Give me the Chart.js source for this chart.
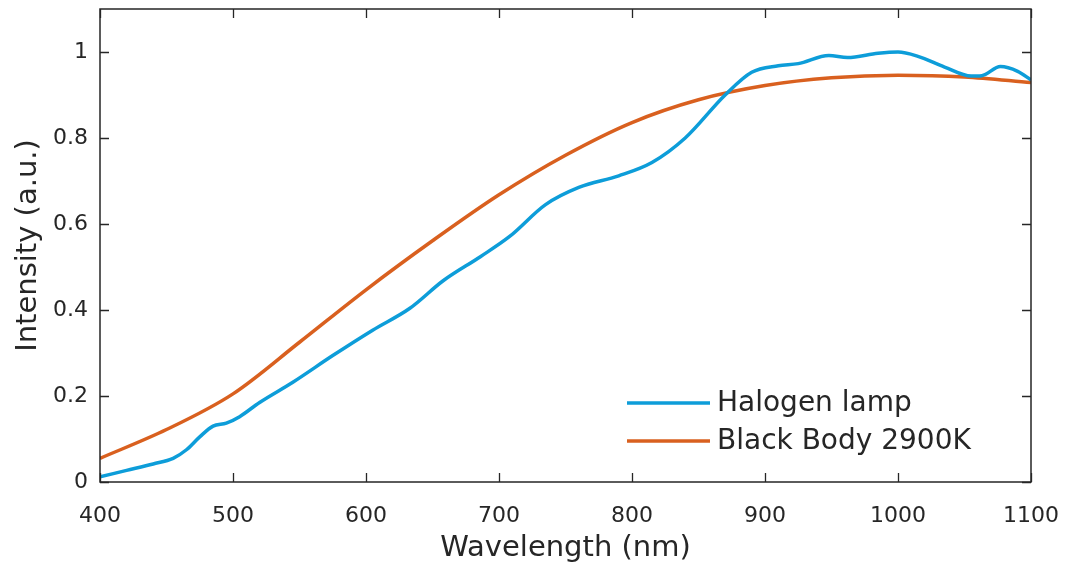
<!DOCTYPE html>
<html>
<head>
<meta charset="utf-8">
<script src="https://cdn.jsdelivr.net/npm/chart.js@4/dist/chart.umd.min.js"></script>
<style>
html,body{margin:0;padding:0;background:#fff;}
#wrap{width:1065px;height:571px;}
</style>
</head>
<body>
<div id="wrap"><canvas id="c" width="1065" height="571"></canvas></div>
<script>
// ---- data ----
const seriesNames = ['Halogen lamp', 'Black Body 2900K'];
const halogenWavelength = [400, 420, 440, 455, 465, 475, 485, 495, 505, 520, 545, 575, 605, 633, 658, 686, 708, 735, 760, 790, 815, 840, 870, 890, 910, 925, 948, 962, 985, 1000, 1015, 1035, 1055, 1063, 1077, 1090, 1100];
const halogenIntensity  = [0.012, 0.027, 0.042, 0.055, 0.075, 0.105, 0.130, 0.137, 0.152, 0.185, 0.232, 0.294, 0.353, 0.404, 0.468, 0.524, 0.571, 0.645, 0.685, 0.712, 0.743, 0.800, 0.900, 0.953, 0.968, 0.973, 0.992, 0.987, 0.997, 1.000, 0.990, 0.965, 0.944, 0.945, 0.966, 0.955, 0.935];
const bbWavelength = [400, 450, 500, 550, 600, 650, 700, 750, 800, 850, 900, 950, 1000, 1050, 1100];
const bbIntensity  = [0.055, 0.122, 0.205, 0.325, 0.447, 0.561, 0.668, 0.760, 0.836, 0.889, 0.922, 0.940, 0.946, 0.942, 0.929];
const xTickValues = [400, 500, 600, 700, 800, 900, 1000, 1100];
const yTickValues = [0, 0.2, 0.4, 0.6, 0.8, 1];
const xTitle = 'Wavelength (nm)';
const yTitle = 'Intensity (a.u.)';

const TEXT = '#262626';
const FONT = 'DejaVu Sans';

function pts(xs, ys){ return xs.map((x,i)=>({x:x, y:ys[i]})); }
function zeroPad(s){ s.paddingTop = 0; s.paddingBottom = 0; s.paddingLeft = 0; s.paddingRight = 0; }

const framePlugin = {
  id: 'frame',
  afterDatasetsDraw(chart){
    const {ctx, chartArea:a, scales} = chart;
    ctx.save();
    ctx.strokeStyle = TEXT;
    ctx.lineWidth = 1.5;
    ctx.strokeRect(a.left, a.top, a.right - a.left, a.bottom - a.top);
    const tl = 9;
    ctx.beginPath();
    scales.x.ticks.forEach(t => {
      const px = Math.round(scales.x.getPixelForValue(t.value)) + 0.5;
      ctx.moveTo(px, a.bottom); ctx.lineTo(px, a.bottom - tl);
      ctx.moveTo(px, a.top); ctx.lineTo(px, a.top + tl);
    });
    scales.y.ticks.forEach(t => {
      const py = Math.round(scales.y.getPixelForValue(t.value)) + 0.5;
      ctx.moveTo(a.left, py); ctx.lineTo(a.left + tl, py);
      ctx.moveTo(a.right, py); ctx.lineTo(a.right - tl, py);
    });
    ctx.lineWidth = 1.3;
    ctx.stroke();
    // legend inside plot (lower right)
    const items = chart.data.datasets;
    const lx0 = 627, lx1 = 710, tx = 717;
    const ys = [403, 441];
    ctx.font = '28px "' + FONT + '"';
    ctx.textBaseline = 'middle';
    ctx.textAlign = 'left';
    items.forEach((ds, i) => {
      ctx.beginPath();
      ctx.strokeStyle = ds.borderColor;
      ctx.lineWidth = ds.borderWidth;
      ctx.moveTo(lx0, ys[i]); ctx.lineTo(lx1, ys[i]);
      ctx.stroke();
      ctx.fillStyle = TEXT;
      ctx.fillText(ds.label, tx, ys[i] + 1);
    });
    ctx.restore();
  }
};

new Chart(document.getElementById('c'), {
  type: 'line',
  data: {
    datasets: [
      { label: seriesNames[0], data: pts(halogenWavelength, halogenIntensity), borderColor: '#0d9dd9', borderWidth: 3.5, pointRadius: 0, fill: false, cubicInterpolationMode: 'monotone' },
      { label: seriesNames[1], data: pts(bbWavelength, bbIntensity), borderColor: '#d9601f', borderWidth: 3.5, pointRadius: 0, fill: false, cubicInterpolationMode: 'monotone' }
    ]
  },
  options: {
    responsive: false,
    animation: false,
    devicePixelRatio: 1,
    layout: { autoPadding: false, padding: { top: 9, right: 34, left: 0, bottom: 0 } },
    plugins: { legend: { display: false }, tooltip: { enabled: false } },
    scales: {
      x: {
        type: 'linear', min: 400, max: 1100,
        afterBuildTicks: s => { s.ticks = xTickValues.map(v => ({value: v})); },
        afterFit: s => { s.height = 89; zeroPad(s); },
        grid: { display: false, drawTicks: false },
        border: { display: false },
        ticks: { color: TEXT, font: { family: FONT, size: 22 }, padding: 21, maxRotation: 0, callback: v => String(v) },
        title: { display: true, text: xTitle, color: TEXT, font: { family: FONT, size: 29 }, padding: { top: 0, bottom: 5 } }
      },
      y: {
        type: 'linear', min: 0, max: 1.1,
        afterBuildTicks: s => { s.ticks = yTickValues.map(v => ({value: v})); },
        afterFit: s => { s.width = 100; zeroPad(s); },
        grid: { display: false, drawTicks: false },
        border: { display: false },
        ticks: { color: TEXT, font: { family: FONT, size: 22 }, padding: 12, callback: v => String(v) },
        title: { display: true, text: yTitle, color: TEXT, font: { family: FONT, size: 29 }, padding: { top: 11, bottom: 0 } }
      }
    }
  },
  plugins: [framePlugin]
});
</script>
</body>
</html>
